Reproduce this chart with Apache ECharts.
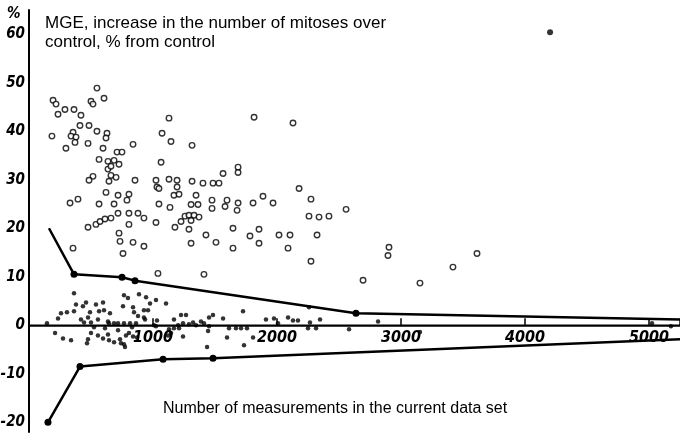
<!DOCTYPE html>
<html>
<head>
<meta charset="utf-8">
<script src="https://cdn.jsdelivr.net/npm/echarts@6/dist/echarts.min.js"></script>
<style>
  html, body { margin: 0; padding: 0; background: #fff; }
  #chart { width: 680px; height: 435px; }
</style>
</head>
<body>
<div id="chart"></div>
<script>
// tick labels
const xTicks = [1000, 2000, 3000, 4000, 5000]
const yTicks = [-20, -10, 0, 10, 20, 30, 40, 50, 60]

// MGE in single experiments, open circles [measurements, %]
const openCircles = [
  [548, 48.9], [194, 46.4], [218, 45.6], [500, 46.2], [516, 45.6], [605, 46.8],
  [290, 44.5], [363, 44.5], [234, 43.5], [419, 43.3], [411, 41.2], [484, 41.2],
  [185, 39.0], [355, 39.8], [339, 39.0], [379, 38.8], [371, 37.7], [548, 40.0],
  [629, 39.6], [621, 38.6], [298, 36.5], [476, 37.5], [839, 37.3], [597, 36.5],
  [710, 35.7], [750, 35.7], [565, 34.2], [637, 33.8], [686, 34.0], [726, 33.2],
  [637, 32.2], [661, 32.8], [1065, 33.6], [516, 30.7], [484, 29.9], [661, 30.9],
  [702, 30.5], [645, 29.7], [855, 29.9], [1024, 29.9], [1032, 28.5], [621, 27.4],
  [718, 26.8], [806, 27.0], [790, 25.8], [331, 25.2], [395, 26.0], [565, 25.0],
  [686, 25.0], [1048, 25.0], [476, 20.2], [540, 20.8], [573, 21.4], [613, 21.9],
  [661, 22.1], [718, 23.1], [806, 23.1], [879, 23.1], [927, 22.1], [1024, 21.2],
  [806, 20.8], [726, 19.0], [734, 17.3], [839, 17.1], [927, 16.3], [355, 15.9],
  [758, 14.8], [1129, 42.7], [1815, 42.9], [2129, 41.7], [1073, 39.6], [1145, 37.9],
  [1315, 37.1], [1686, 32.6], [1686, 31.5], [1565, 31.3], [1129, 30.1], [1194, 29.9],
  [1315, 29.7], [1403, 29.3], [1484, 29.3], [1532, 29.3], [1194, 28.5], [1048, 28.2],
  [1169, 26.8], [1210, 27.0], [1347, 26.8], [2178, 28.2], [1887, 26.6], [2274, 26.0],
  [1137, 24.3], [1307, 24.9], [1363, 24.9], [1476, 25.8], [1597, 25.8], [1581, 24.5],
  [1686, 25.2], [1807, 25.2], [1968, 25.2], [1476, 24.1], [1678, 23.7], [2557, 23.9],
  [2258, 22.5], [2339, 22.3], [2419, 22.5], [1258, 22.5], [1290, 22.7], [1331, 22.7],
  [1371, 22.3], [1226, 21.4], [1307, 21.6], [1177, 20.2], [1290, 19.8], [1645, 20.0],
  [1782, 18.4], [1855, 19.8], [2016, 18.6], [2105, 18.6], [2323, 18.6], [1427, 18.6],
  [1307, 16.9], [1508, 17.1], [1645, 15.9], [1855, 16.9], [2089, 15.9], [2274, 13.2],
  [1040, 10.7], [1411, 10.5], [2903, 16.1], [2895, 14.4], [2694, 9.3], [3153, 8.7],
  [3419, 12.0], [3613, 14.8]
]

// control experiments, filled dots
const filledDots = [
  [145, 0.4], [210, -1.6], [274, -2.7], [339, -3.1], [234, 1.4], [258, 2.5],
  [306, 2.7], [363, 2.9], [363, 6.6], [379, 4.3], [435, 3.9], [460, 4.7],
  [540, 4.3], [597, 4.7], [492, 2.7], [565, 2.9], [605, 3.1], [653, 2.5],
  [419, 1.2], [476, 1.6], [500, 0.6], [444, 0.6], [556, 1.2], [637, 0.8],
  [645, 0.4], [686, 0.4], [718, 0.4], [766, 0.4], [815, 0.4], [863, 0.4],
  [500, -1.6], [556, -2.1], [597, -2.7], [645, -3.1], [686, -3.5], [734, -2.9],
  [766, -3.9], [476, -2.9], [468, -3.7], [637, -1.9], [718, -1.0], [806, -1.6],
  [831, -0.4], [871, -2.5], [613, -0.6], [524, -0.4], [758, 3.9], [839, 3.7],
  [766, 6.2], [798, 5.6], [887, 6.4], [944, 5.8], [976, 4.5], [1024, 5.2],
  [847, 2.7], [879, 1.9], [927, 3.1], [927, 1.6], [936, 1.2], [1032, 1.0],
  [1008, 0.0], [742, -3.7], [774, -4.5], [782, -2.1], [839, -2.3], [1105, 4.5],
  [960, 3.1], [1024, -0.2], [1129, -0.8], [1121, -2.1], [1145, -1.6], [1169, 1.2],
  [1202, 0.0], [1242, 0.4], [1226, 2.1], [1266, 2.1], [1169, -0.6], [1210, -0.6],
  [1242, -2.3], [1290, 0.2], [1323, 0.6], [1347, 0.0], [1387, 0.8], [1411, 0.4],
  [1452, 1.6], [1484, 2.1], [1452, -0.2], [1444, -1.2], [1565, 1.4], [1436, -4.5],
  [1613, -0.6], [1710, -0.6], [1597, -2.5], [1669, -0.6], [1726, 2.9], [1758, -0.6],
  [1734, -4.1], [1807, -2.5], [1911, 1.2], [1976, 1.4], [2008, 0.4], [2089, 1.6],
  [2129, 1.0], [2169, 1.0], [2258, 3.7], [2266, 0.6], [2250, -0.6], [2315, -0.6],
  [2347, 1.2], [2581, -0.8], [2815, 0.8], [3153, -1.4], [5024, 0.4], [5177, -0.2]
]

// lone point far at the top right
const outlier = [[4202, 60.4]]

// confidence limits
const upperBound = [[161, 20.0], [363, 10.5], [750, 9.9], [855, 9.2], [2637, 2.5], [5250, 1.2]]
const lowerBound = [[153, -20.0], [411, -8.5], [1081, -7.0], [1484, -6.8], [5250, -2.9]]

// zero level, drawn across the whole x range
const zeroLine = [[0, 0], [5250, 0]]

const numFont = '"Liberation Sans Narrow", "DejaVu Sans Condensed", sans-serif'
const numLabel = {
  color: '#000',
  fontFamily: numFont,
  fontStyle: 'italic',
  fontWeight: 'bold'
}

const chart = echarts.init(document.getElementById('chart'))

const option = {
  backgroundColor: '#fff',
  animation: false,
  title: {
    text: 'MGE, increase in the number of mitoses over\ncontrol, % from control',
    left: 40,
    top: 9,
    textStyle: {
      fontFamily: '"Liberation Sans", Arial, sans-serif',
      fontSize: 17,
      fontWeight: 'normal',
      lineHeight: 19,
      color: '#000'
    }
  },
  graphic: [
    {
      type: 'text',
      left: 163,
      top: 401,
      style: {
        text: 'Number of measurements in the current data set',
        font: '16px "Liberation Sans", Arial, sans-serif',
        fill: '#000'
      }
    },
    {
      type: 'text',
      left: 7,
      top: 7,
      style: {
        text: '%',
        font: 'italic bold 15px ' + numFont,
        fill: '#000'
      }
    }
  ],
  grid: [
    // plot area
    { left: 29, right: 0, top: 10, bottom: 3, containLabel: false, outerBoundsMode: 'none' },
    // holder for the x axis, its bottom edge is moved onto y = 0 below
    { left: 29, right: 0, top: 10, bottom: 110, containLabel: false, outerBoundsMode: 'none' }
  ],
  xAxis: [
    { type: 'value', gridIndex: 0, min: 0, max: 5250, show: false },
    {
      type: 'value',
      gridIndex: 1,
      min: 0,
      max: 5250,
      interval: 1000,
      position: 'bottom',
      splitLine: { show: false },
      axisLine: { show: true, onZero: false, lineStyle: { color: '#000', width: 1.5 } },
      axisTick: { show: true, inside: true, length: 7, lineStyle: { color: '#000', width: 1.5 } },
      axisLabel: Object.assign({
        formatter: function (v) { return xTicks.indexOf(v) >= 0 ? String(v) : '' },
        margin: 5,
        fontSize: 16
      }, numLabel)
    }
  ],
  yAxis: [
    {
      type: 'value',
      gridIndex: 0,
      min: -22,
      max: 65,
      splitLine: { show: false },
      axisLine: { show: true, onZero: false, lineStyle: { color: '#000', width: 2 } },
      axisTick: { show: false },
      axisLabel: Object.assign({
        customValues: yTicks,
        formatter: function (v) { return String(v) },
        margin: 4,
        fontSize: 15
      }, numLabel)
    },
    { type: 'value', gridIndex: 1, min: 0, max: 1, show: false }
  ],
  series: [
    {
      type: 'line',
      data: zeroLine,
      symbol: 'none',
      silent: true,
      lineStyle: { color: '#000', width: 1.5 }
    },
    {
      type: 'scatter',
      data: openCircles,
      symbol: 'circle',
      symbolSize: 5.5,
      itemStyle: { color: '#fff', borderColor: '#000', borderWidth: 1.4 }
    },
    {
      type: 'scatter',
      data: filledDots,
      symbol: 'circle',
      symbolSize: 4.5,
      itemStyle: { color: '#000' }
    },
    {
      type: 'scatter',
      data: outlier,
      symbol: 'circle',
      symbolSize: 6,
      itemStyle: { color: '#000' }
    },
    {
      type: 'line',
      data: upperBound,
      symbol: 'circle',
      symbolSize: function (val, params) {
        return params.dataIndex === 0 || params.dataIndex === upperBound.length - 1 ? 0 : 7
      },
      itemStyle: { color: '#000' },
      lineStyle: { color: '#000', width: 2.5 }
    },
    {
      type: 'line',
      data: lowerBound,
      symbol: 'circle',
      symbolSize: function (val, params) {
        return params.dataIndex === lowerBound.length - 1 ? 0 : 7
      },
      itemStyle: { color: '#000' },
      lineStyle: { color: '#000', width: 2.5 }
    }
  ]
}

chart.setOption(option)

// align the axis holder's bottom with the zero of the y scale
const zeroY = chart.convertToPixel({ yAxisIndex: 0 }, 0)
chart.setOption({
  grid: [{}, { bottom: chart.getHeight() - zeroY }]
})
</script>
</body>
</html>
